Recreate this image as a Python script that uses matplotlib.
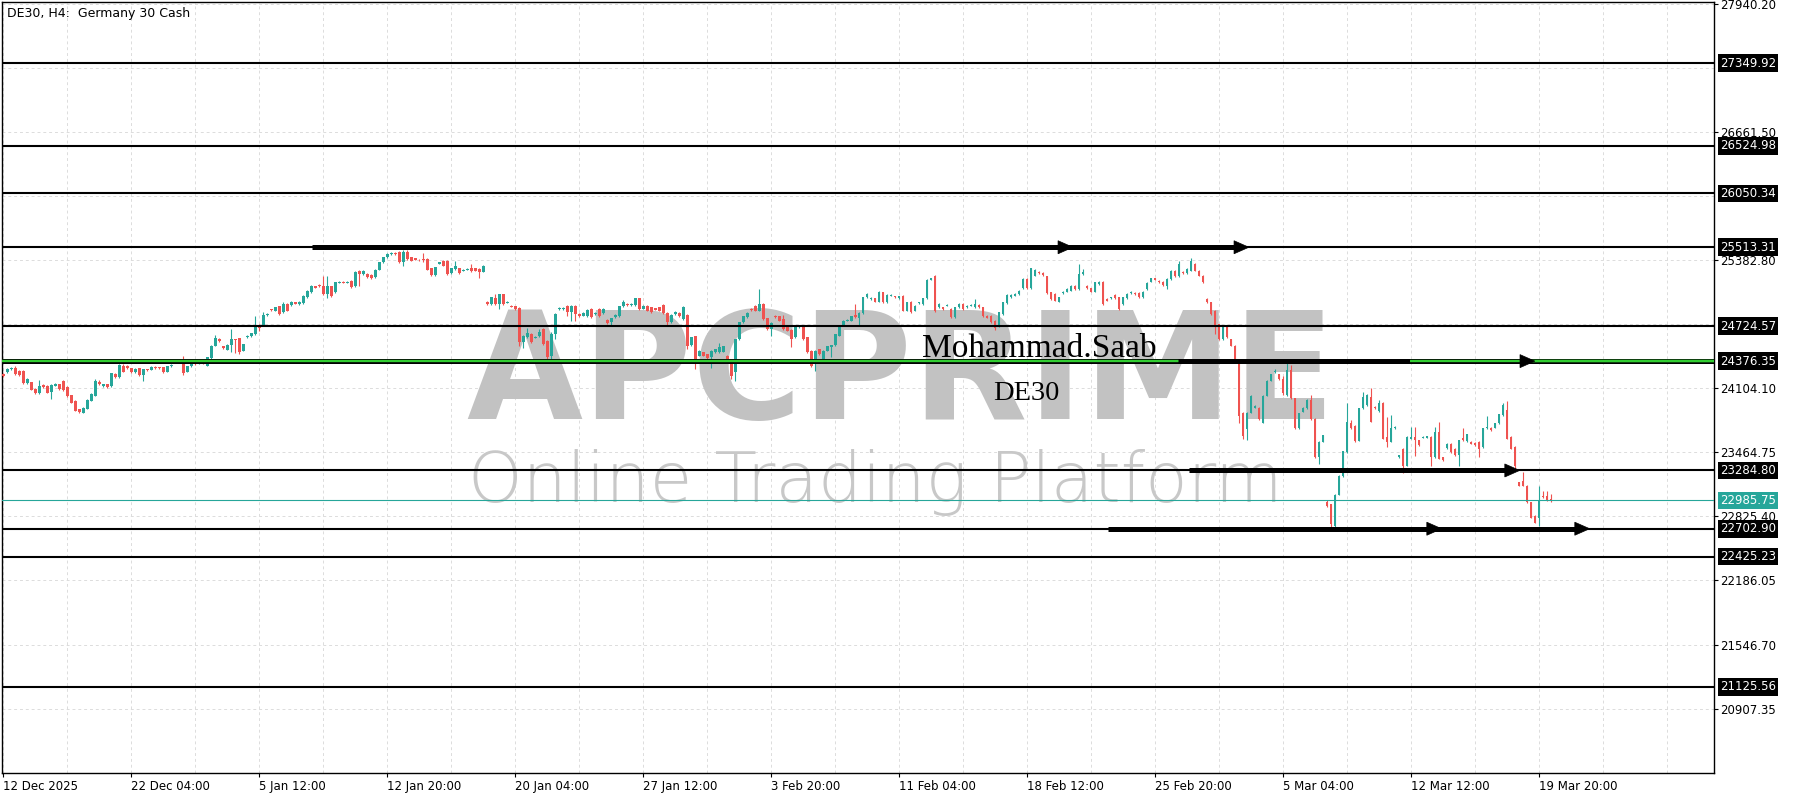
import numpy as np
import matplotlib.pyplot as plt
from matplotlib.patches import Polygon

# DE30 H4 candles (one entry per 4h bar)
opens = [
    24246, 24270, 24296, 24310, 24280, 24280, 24156, 24163, 24100, 24063,
    24136, 24130, 24070, 24130, 24143, 24180, 24120, 24036, 23980, 23896,
    23863, 23903, 23980, 24030, 24170, 24123, 24143, 24123, 24246, 24213,
    24330, 24330, 24303, 24263, 24303, 24236, 24296, 24290, 24320, 24313,
    24316, 24270, 24323, 24390, 24363, 24370, 24270, 24323, 24370, 24356,
    24370, 24330, 24403, 24530, 24596, 24523, 24490, 24536, 24596, 24603,
    24480, 24616, 24623, 24646, 24736, 24730, 24836, 24896, 24880, 24923,
    24863, 24946, 24936, 24963, 24946, 24956, 25013, 25063, 25123, 25136,
    25130, 25046, 25123, 25070, 25160, 25166, 25160, 25180, 25123, 25280,
    25246, 25246, 25236, 25213, 25290, 25363, 25413, 25446, 25456, 25463,
    25363, 25463, 25413, 25403, 25390, 25400, 25396, 25303, 25236, 25350,
    25380, 25380, 25256, 25296, 25303, 25280, 25290, 25303, 25303, 25296,
    25270, 24963, 24946, 25003, 24946, 25046, 24960, 24930, 24923, 24910,
    24563, 24613, 24646, 24610, 24623, 24696, 24580, 24430, 24646, 24896,
    24896, 24930, 24863, 24930, 24850, 24830, 24823, 24896, 24843, 24900,
    24856, 24790, 24763, 24813, 24823, 24923, 24946, 24936, 24936, 25003,
    24900, 24930, 24913, 24903, 24913, 24936, 24856, 24763, 24846, 24856,
    24796, 24836, 24536, 24623, 24430, 24463, 24446, 24413, 24463, 24463,
    24470, 24430, 24396, 24263, 24596, 24763, 24813, 24896, 24930, 24880,
    24946, 24803, 24696, 24826, 24823, 24796, 24713, 24690, 24613, 24713,
    24723, 24613, 24480, 24346, 24496, 24380, 24480, 24513, 24536, 24630,
    24736, 24780, 24780, 24836, 24803, 24856, 25013, 24996, 25003, 24970,
    25063, 24963, 25030, 25023, 25003, 25030, 24880, 24970, 24880, 24956,
    24946, 25003, 25190, 25223, 24913, 24913, 24930, 24896, 24813, 24913,
    24946, 24913, 24930, 24913, 24936, 24913, 24830, 24830, 24780, 24723,
    24846, 24956, 25013, 25030, 25046, 25103, 25196, 25103, 25230, 25270,
    25256, 25223, 25063, 25046, 24970, 25056, 25070, 25080, 25130, 25096,
    25246, 25130, 25103, 25070, 25146, 25170, 24996, 25003, 25036, 25013,
    24946, 25003, 25056, 25056, 25056, 25013, 25096, 25170, 25203, 25180,
    25170, 25130, 25196, 25280, 25223, 25270, 25256, 25280, 25346, 25280,
    25230, 24996, 24963, 24880, 24746, 24596, 24723, 24596, 24530, 24396,
    23863, 23696, 23863, 23913, 23913, 23763, 24030, 24180, 24263, 24246,
    24196, 24040, 24292, 24006, 23704, 23872, 23906, 23990, 23798, 23418,
    23570, 22972, 22948, 22730, 23043, 23230, 23469, 23760, 23727, 23580,
    23906, 23939, 24023, 23922, 23876, 23960, 23620, 23570, 23704, 23418,
    23502, 23334, 23603, 23620, 23586, 23612, 23612, 23620, 23418, 23670,
    23418, 23509, 23553, 23502, 23435, 23612, 23577, 23570, 23563, 23570,
    23519, 23704, 23710, 23710, 23754, 23838, 23889, 23620, 23519, 23166,
    23183, 23133, 22965, 22830, 22814, 23032, 23032, 23000,
]
highs = [
    24262, 24305, 24320, 24330, 24290, 24290, 24205, 24170, 24110, 24190,
    24150, 24140, 24145, 24155, 24150, 24190, 24125, 24040, 23985, 23900,
    23920, 23995, 24055, 24200, 24185, 24150, 24150, 24262, 24255, 24345,
    24350, 24335, 24310, 24305, 24310, 24300, 24300, 24325, 24330, 24320,
    24322, 24330, 24345, 24400, 24390, 24430, 24330, 24378, 24378, 24372,
    24375, 24420, 24535, 24640, 24605, 24530, 24545, 24700, 24600, 24610,
    24552, 24636, 24662, 24830, 24745, 24870, 24855, 24900, 24920, 24930,
    24970, 24955, 24976, 24968, 24976, 25036, 25086, 25136, 25130, 25142,
    25230, 25230, 25130, 25170, 25176, 25172, 25176, 25185, 25276, 25290,
    25286, 25252, 25242, 25296, 25370, 25420, 25452, 25462, 25462, 25480,
    25490, 25490, 25420, 25408, 25396, 25460, 25402, 25310, 25320, 25370,
    25386, 25386, 25310, 25380, 25310, 25296, 25302, 25345, 25310, 25302,
    25340, 24975, 25020, 25045, 25050, 25050, 24972, 24936, 24930, 24915,
    24640, 24710, 24660, 24626, 24700, 24705, 24590, 24670, 24855, 24918,
    24916, 24940, 24936, 24936, 24856, 24862, 24896, 24902, 24862, 24906,
    24902, 24796, 24810, 24842, 24930, 24990, 24952, 24956, 25010, 25010,
    24940, 24936, 24920, 24910, 24920, 24945, 24862, 24842, 24876, 24862,
    24930, 24842, 24620, 24630, 24486, 24470, 24452, 24486, 24502, 24560,
    24530, 24436, 24402, 24602, 24770, 24830, 24862, 24902, 24936, 25100,
    24952, 24810, 24762, 24832, 24830, 24840, 24720, 24696, 24720, 24736,
    24730, 24620, 24486, 24486, 24502, 24486, 24530, 24542, 24652, 24742,
    24786, 24796, 24830, 24946, 24862, 25020, 25052, 25016, 25010, 25076,
    25070, 25042, 25042, 25030, 25030, 25036, 24970, 24976, 24936, 24970,
    25010, 25196, 25210, 25240, 24952, 24920, 24942, 24902, 24920, 24952,
    24952, 24936, 24942, 25000, 24942, 24920, 24836, 24836, 24786, 24870,
    24970, 25042, 25042, 25052, 25086, 25202, 25202, 25310, 25296, 25276,
    25262, 25230, 25070, 25052, 25020, 25076, 25102, 25136, 25136, 25350,
    25300, 25136, 25110, 25170, 25176, 25176, 25002, 25020, 25042, 25020,
    25020, 25052, 25076, 25062, 25062, 25076, 25162, 25210, 25210, 25186,
    25176, 25202, 25286, 25286, 25380, 25276, 25302, 25405, 25352, 25286,
    25236, 25002, 24970, 24886, 24752, 24730, 24730, 24602, 24536, 24402,
    23870, 23870, 24040, 23936, 23920, 24036, 24186, 24252, 24300, 24252,
    24230, 24360, 24340, 24012, 23862, 23918, 23996, 24040, 23804, 23576,
    23643, 22990, 22954, 23050, 23236, 23483, 23956, 23790, 23740, 23912,
    24070, 24046, 24107, 23928, 23990, 23966, 23822, 23840, 23727, 23441,
    23508, 23626, 23720, 23720, 23592, 23626, 23631, 23626, 23720, 23771,
    23424, 23559, 23559, 23508, 23592, 23710, 23650, 23576, 23569, 23576,
    23710, 23830, 23716, 23760, 23851, 23956, 23980, 23626, 23525, 23172,
    23270, 23139, 22971, 22836, 23133, 23082, 23082, 23050,
]
lows = [
    24220, 24262, 24290, 24240, 24230, 24150, 24150, 24085, 24050, 24045,
    24110, 24055, 24000, 24125, 24090, 24080, 24020, 23955, 23875, 23860,
    23855, 23895, 23975, 24025, 24135, 24118, 24110, 24118, 24205, 24205,
    24265, 24300, 24262, 24255, 24230, 24180, 24275, 24285, 24298, 24295,
    24262, 24265, 24318, 24370, 24355, 24240, 24265, 24318, 24342, 24350,
    24352, 24325, 24398, 24525, 24568, 24495, 24485, 24470, 24460, 24450,
    24475, 24610, 24618, 24640, 24680, 24725, 24830, 24878, 24875, 24840,
    24855, 24875, 24930, 24945, 24940, 24950, 25008, 25058, 25105, 25118,
    25040, 25010, 25020, 25060, 25155, 25155, 25155, 25105, 25115, 25130,
    25240, 25205, 25195, 25205, 25285, 25358, 25408, 25440, 25440, 25355,
    25330, 25390, 25375, 25385, 25378, 25370, 25285, 25230, 25230, 25345,
    25325, 25240, 25250, 25290, 25250, 25275, 25285, 25270, 25274, 25203,
    25265, 24940, 24940, 24940, 24900, 24940, 24955, 24914, 24890, 24530,
    24510, 24605, 24555, 24604, 24615, 24540, 24390, 24400, 24600, 24890,
    24890, 24830, 24780, 24780, 24820, 24824, 24818, 24808, 24838, 24818,
    24850, 24750, 24740, 24808, 24818, 24918, 24930, 24930, 24930, 24890,
    24894, 24874, 24856, 24884, 24874, 24850, 24730, 24756, 24840, 24816,
    24790, 24500, 24530, 24300, 24424, 24424, 24396, 24310, 24456, 24456,
    24464, 24390, 24200, 24180, 24590, 24756, 24806, 24876, 24874, 24874,
    24790, 24690, 24630, 24806, 24774, 24690, 24674, 24520, 24606, 24706,
    24590, 24456, 24320, 24280, 24440, 24374, 24474, 24420, 24530, 24624,
    24730, 24774, 24774, 24806, 24740, 24850, 25006, 24990, 24964, 24964,
    24956, 24956, 25024, 25006, 24996, 24874, 24874, 24856, 24874, 24950,
    24940, 24996, 25184, 24870, 24906, 24890, 24924, 24806, 24806, 24906,
    24890, 24906, 24924, 24906, 24906, 24816, 24804, 24756, 24690, 24716,
    24840, 24950, 25006, 25024, 25040, 25096, 25096, 25096, 25224, 25250,
    25230, 25050, 24990, 24974, 24964, 25050, 25064, 25074, 25090, 25090,
    25240, 25096, 25064, 25064, 25140, 24940, 24974, 24996, 24996, 24890,
    24940, 24996, 25050, 25040, 25006, 25006, 25090, 25164, 25184, 25156,
    25130, 25096, 25190, 25216, 25216, 25250, 25250, 25274, 25274, 25224,
    25156, 24956, 24840, 24650, 24590, 24590, 24606, 24524, 24390, 23760,
    23600, 23590, 23856, 23906, 23790, 23756, 24024, 24174, 24256, 24190,
    24040, 24030, 24000, 23698, 23698, 23866, 23900, 23792, 23412, 23350,
    23564, 22920, 22710, 22700, 23037, 23224, 23463, 23700, 23570, 23574,
    23900, 23933, 23765, 23900, 23870, 23597, 23520, 23564, 23698, 23412,
    23260, 23328, 23597, 23430, 23530, 23606, 23606, 23330, 23412, 23396,
    23379, 23503, 23463, 23429, 23330, 23580, 23571, 23547, 23530, 23420,
    23513, 23698, 23681, 23704, 23748, 23832, 23597, 23496, 23300, 23127,
    23127, 22959, 22808, 22757, 22730, 23009, 22976, 22970,
]
closes = [
    24230, 24296, 24310, 24246, 24240, 24156, 24196, 24090, 24056, 24130,
    24116, 24063, 24136, 24146, 24096, 24090, 24030, 23963, 23880, 23870,
    23913, 23990, 24046, 24180, 24143, 24143, 24116, 24256, 24213, 24336,
    24270, 24310, 24270, 24296, 24236, 24296, 24283, 24316, 24303, 24303,
    24270, 24323, 24336, 24376, 24380, 24256, 24323, 24370, 24350, 24366,
    24360, 24413, 24530, 24603, 24576, 24503, 24536, 24596, 24583, 24470,
    24546, 24630, 24656, 24730, 24703, 24836, 24850, 24883, 24913, 24850,
    24946, 24880, 24970, 24950, 24970, 25030, 25080, 25130, 25110, 25123,
    25046, 25123, 25030, 25163, 25170, 25160, 25170, 25113, 25270, 25246,
    25280, 25213, 25203, 25290, 25363, 25413, 25446, 25456, 25446, 25363,
    25470, 25396, 25380, 25390, 25383, 25385, 25290, 25236, 25313, 25363,
    25330, 25246, 25303, 25323, 25256, 25290, 25296, 25280, 25280, 25263,
    25323, 24950, 25013, 24946, 25046, 24946, 24966, 24920, 24896, 24563,
    24623, 24656, 24563, 24620, 24670, 24546, 24413, 24646, 24846, 24910,
    24910, 24863, 24930, 24850, 24826, 24856, 24890, 24813, 24856, 24823,
    24896, 24756, 24803, 24836, 24923, 24970, 24936, 24950, 25003, 24896,
    24930, 24880, 24863, 24890, 24880, 24856, 24763, 24836, 24870, 24823,
    24913, 24530, 24613, 24363, 24480, 24430, 24403, 24480, 24496, 24513,
    24523, 24396, 24230, 24596, 24763, 24823, 24856, 24883, 24880, 24946,
    24796, 24696, 24756, 24813, 24780, 24696, 24680, 24596, 24713, 24730,
    24596, 24463, 24330, 24480, 24446, 24480, 24523, 24536, 24646, 24736,
    24780, 24790, 24823, 24813, 24856, 25013, 25046, 25010, 24970, 25070,
    24963, 25036, 25036, 25013, 25023, 24880, 24963, 24863, 24930, 24963,
    25003, 25190, 25203, 24880, 24946, 24896, 24936, 24813, 24913, 24946,
    24896, 24930, 24936, 24946, 24913, 24823, 24810, 24763, 24703, 24863,
    24963, 25036, 25036, 25046, 25080, 25196, 25103, 25303, 25290, 25256,
    25236, 25056, 24996, 24980, 25013, 25070, 25096, 25130, 25096, 25246,
    25263, 25103, 25070, 25163, 25170, 24946, 24980, 25013, 25003, 24896,
    25013, 25046, 25070, 25046, 25013, 25070, 25156, 25203, 25190, 25163,
    25136, 25196, 25280, 25223, 25346, 25256, 25296, 25380, 25280, 25230,
    25163, 24963, 24846, 24730, 24596, 24723, 24613, 24530, 24396, 23830,
    23630, 23863, 24030, 23930, 23796, 24030, 24180, 24246, 24280, 24196,
    24060, 24292, 24006, 23704, 23855, 23912, 23990, 23798, 23418, 23570,
    23637, 22931, 22746, 23043, 23230, 23477, 23771, 23710, 23580, 23906,
    24023, 24040, 23771, 23906, 23960, 23603, 23570, 23704, 23721, 23435,
    23334, 23620, 23620, 23586, 23536, 23620, 23625, 23418, 23670, 23402,
    23385, 23553, 23469, 23435, 23586, 23586, 23644, 23553, 23536, 23502,
    23704, 23721, 23687, 23754, 23845, 23939, 23603, 23502, 23334, 23133,
    23133, 22965, 22814, 22763, 22982, 23015, 22982, 22985.75,
]

level_prices = [27349.92, 26524.98, 26050.34, 25513.31, 24724.57,
                24376.35, 23284.80, 22702.90, 22425.23, 21125.56]
green_level = 24376.35
last_price = 22985.75
price_ticks = [27940.20, 26661.50, 25382.80, 24104.10, 23464.75,
               22825.40, 22186.05, 21546.70, 20907.35]
grid_prices = [27940.20, 27300.85, 26661.50, 26022.15, 25382.80, 24743.45,
               24104.10, 23464.75, 22825.40, 22186.05, 21546.70, 20907.35]
date_labels = ['12 Dec 2025', '22 Dec 04:00', '5 Jan 12:00', '12 Jan 20:00',
               '20 Jan 04:00', '27 Jan 12:00', '3 Feb 20:00', '11 Feb 04:00',
               '18 Feb 12:00', '25 Feb 20:00', '5 Mar 04:00', '12 Mar 12:00',
               '19 Mar 20:00']
# drawn arrows: level, start bar, bars where arrow heads sit
arrows = [
    (25513.31, 77.1, [267.4, 311.4]),
    (24376.35, 293.6, [382.9]),
    (23284.80, 296.4, [379.1]),
    (22702.90, 276.1, [359.6, 396.6]),
]

UP = '#26a69a'
DOWN = '#ef5350'
LIME = '#32cd32'

fig = plt.figure(figsize=(18, 8), dpi=100)
ax = fig.add_axes([2 / 1800, 27 / 800, 1712 / 1800, 771 / 800])
ax.set_xlim(-0.33, 427.7)
ax.set_ylim(20264, 27962)

# grid
for p in grid_prices:
    ax.axhline(p, color='#dcdcdc', lw=0.7, ls=(0, (3, 3)), zorder=0)
for b in range(0, 428, 16):
    ax.axvline(b, color='#dcdcdc', lw=0.7, ls=(0, (3, 3)), zorder=0)

# watermark, behind the candles
ax.text(901 / 1800, 1 - 419 / 800, 'APCPRIME', transform=fig.transFigure,
        fontsize=108, fontweight='bold', color='#c2c2c2',
        ha='center', va='baseline', zorder=0.5)
ax.text(875 / 1800, 1 - 502 / 800, 'Online Trading Platform', transform=fig.transFigure,
        fontsize=50, family='DejaVu Sans', fontweight=200, color='#c8c8c8',
        ha='center', va='baseline', zorder=0.5)

# candles
o = np.array(opens, dtype=float)
h = np.array(highs, dtype=float)
l = np.array(lows, dtype=float)
c = np.array(closes, dtype=float)
idx = np.arange(len(c))
cols = np.where(c >= o, UP, DOWN)
ax.vlines(idx, l, h, colors=cols, lw=0.8, zorder=4)
ax.bar(idx, np.maximum(np.abs(c - o), 7), bottom=np.minimum(o, c), width=0.62,
       color=cols, linewidth=0, zorder=5)

# horizontal levels
for p in level_prices:
    if p == green_level:
        ax.axhline(p, color='black', lw=3.6, zorder=6)
        ax.axhline(p, color=LIME, lw=1.7, zorder=6.5)
    else:
        ax.axhline(p, color='black', lw=1.5, zorder=6)
ax.axhline(last_price, color=UP, lw=0.8, zorder=6)

# arrows
for lvl, x0, heads in arrows:
    ax.plot([x0, heads[-1] - 3], [lvl, lvl], color='black', lw=3.6,
            solid_capstyle='butt', zorder=7)
    for hx in heads:
        ax.add_patch(Polygon([[hx, lvl], [hx - 3.7, lvl + 65], [hx - 3.7, lvl - 65]],
                             closed=True, fc='black', ec='black', lw=0.5, zorder=9))
ax.plot([351.6, 427.7], [green_level, green_level], color=LIME, lw=1.7,
        solid_capstyle='butt', zorder=8)

# labels
fig.text(922 / 1800, 1 - 357 / 800, 'Mohammad.Saab', fontsize=24,
         family='Liberation Serif', color='black', ha='left', va='baseline', zorder=10)
fig.text(993 / 1800, 1 - 400 / 800, 'DE30', fontsize=20.5,
         family='Liberation Serif', color='black', ha='left', va='baseline', zorder=10)
ax.text(0.003, 0.994, 'DE30, H4:  Germany 30 Cash', transform=ax.transAxes,
        fontsize=9, ha='left', va='top', color='black')

# axes
ax.yaxis.tick_right()
ax.set_yticks(price_ticks)
ax.set_yticklabels([f'{p:.2f}' for p in price_ticks])
ax.tick_params(axis='y', length=3, width=0.8, pad=1.5, labelsize=8.5, color='black')
ax.set_xticks(range(0, 32 * len(date_labels), 32))
ax.set_xticklabels(date_labels)
ax.tick_params(axis='x', length=3, width=0.8, pad=2, labelsize=8.5)
for lab in ax.get_xticklabels():
    lab.set_ha('left')
for s in ax.spines.values():
    s.set_color('black')
    s.set_linewidth(1)

ytrans = ax.get_yaxis_transform()
for p in level_prices:
    ax.text(1.0035, p, f'{p:.2f}', transform=ytrans, fontsize=8.5, color='white',
            ha='left', va='center', zorder=12, clip_on=False,
            bbox=dict(boxstyle='square,pad=0.2', fc='black', ec='none'))
ax.text(1.0035, last_price, f'{last_price:.2f}', transform=ytrans, fontsize=8.5,
        color='white', ha='left', va='center', zorder=12, clip_on=False,
        bbox=dict(boxstyle='square,pad=0.2', fc=UP, ec='none'))

fig.savefig('out.png', dpi=100, facecolor='white')
